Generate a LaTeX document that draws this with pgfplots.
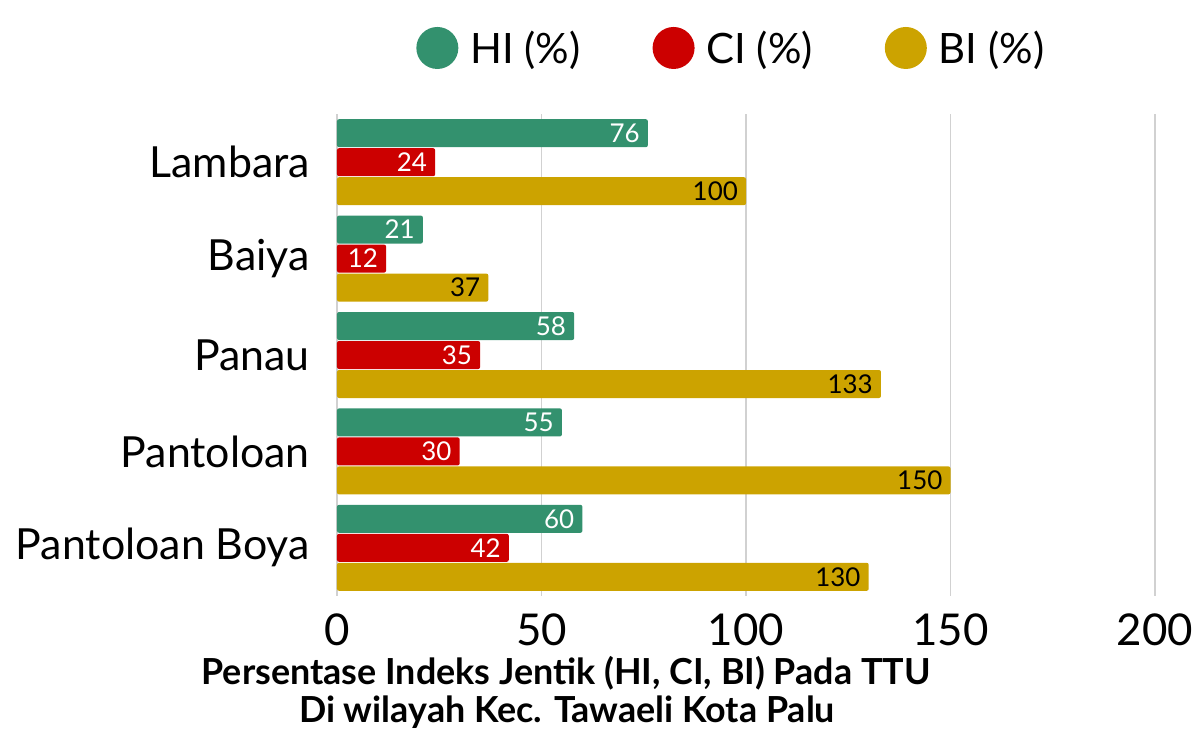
\documentclass[border=0pt]{standalone}
\usepackage{pgfplots}
\pgfplotsset{compat=1.18}
\usepackage{fontspec}
\setmainfont{Lato}
\definecolor{cHI}{RGB}{51,145,110}
\definecolor{cCI}{RGB}{204,0,0}
\definecolor{cBI}{RGB}{204,163,0}
\begin{document}
\begin{tikzpicture}
\begin{axis}[
  scale only axis, width=818bp, height=482bp,
  xbar=1bp, bar width=28bp,
  xmin=0, xmax=200, ymin=-0.5, ymax=4.5, y dir=reverse,
  xtick={0,50,100,150,200}, ytick={0,1,2,3,4},
  yticklabels={Lambara,Baiya,Panau,Pantoloan,Pantoloan Boya},
  /pgf/number format/assume math mode=true,
  xmajorgrids, grid style={draw=black!18, line width=1.2bp},
  axis line style={draw=none}, major tick length=0pt,
  xticklabel style={font=\fontsize{44}{44}\selectfont, inner sep=0pt, yshift=-18bp},
  yticklabel style={font=\fontsize{43}{43}\selectfont, inner sep=0pt, xshift=-27bp},
  legend columns=3,
  legend style={draw=none, fill=none, at={(axis description cs:0.482,1.137)}, anchor=center,
    font=\fontsize{42}{42}\selectfont,
    /tikz/every even column/.append style={column sep=70bp}},
  legend image code/.code={\fill[#1] (0bp,0bp) circle (21bp); \path (31bp,0bp);},
  nodes near coords,
  every node near coord/.append style={anchor=east, inner sep=0pt, xshift=-8bp, font=\fontsize{26}{26}\selectfont},
]
\addplot[fill=cHI, draw=none, rounded corners=2bp, bar shift=29bp, every node near coord/.append style={text=white}] coordinates {(76,0) (21,1) (58,2) (55,3) (60,4)};
\addplot[fill=cCI, draw=none, rounded corners=2bp, bar shift=0bp, every node near coord/.append style={text=white}] coordinates {(24,0) (12,1) (35,2) (30,3) (42,4)};
\addplot[fill=cBI, draw=none, rounded corners=2bp, bar shift=-29bp, every node near coord/.append style={text=black}] coordinates {(100,0) (37,1) (133,2) (150,3) (130,4)};
\legend{HI (\%), CI (\%), BI (\%)}
\end{axis}
\node[anchor=base, font=\fontsize{36}{36}\selectfont\bfseries] at (229bp,-88bp) {Persentase Indeks Jentik (HI, CI, BI) Pada TTU};
\node[anchor=base, font=\fontsize{36}{36}\selectfont\bfseries] at (230bp,-126bp) {Di wilayah Kec. Tawaeli Kota Palu};
\pgfresetboundingbox
\path[use as bounding box] (-337bp,-136bp) rectangle (860bp,596bp);
\end{tikzpicture}
\end{document}
